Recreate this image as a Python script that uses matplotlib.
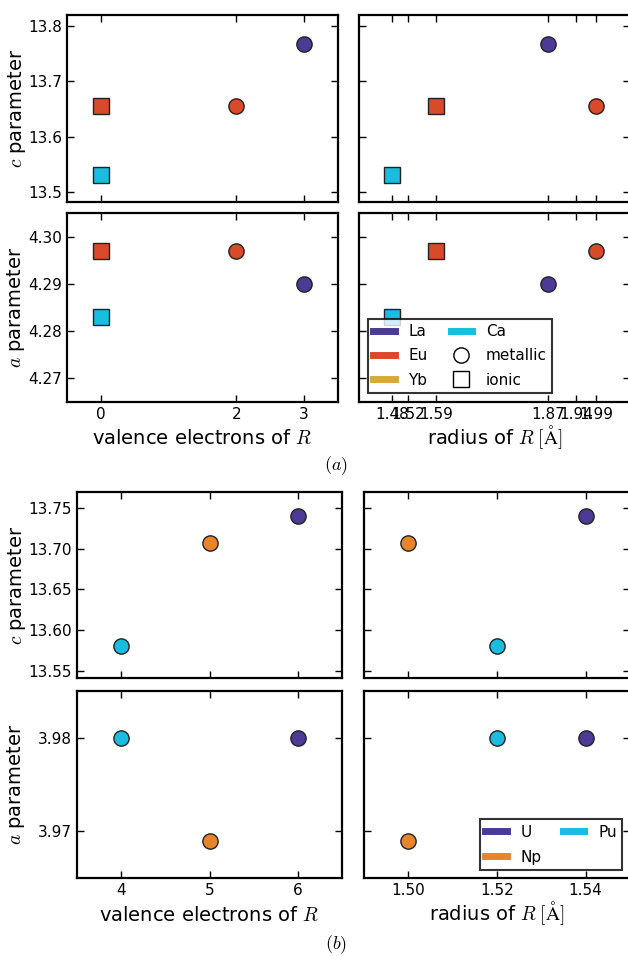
import numpy as np
import matplotlib
matplotlib.use("Agg")
import matplotlib.pyplot as plt
from matplotlib.lines import Line2D

plt.rcParams['mathtext.fontset'] = 'cm'
plt.rcParams['font.family'] = ['DejaVu Sans']
plt.rcParams['xtick.direction'] = 'in'
plt.rcParams['ytick.direction'] = 'in'
plt.rcParams['xtick.top'] = True
plt.rcParams['ytick.right'] = True
plt.rcParams['xtick.major.size'] = 5
plt.rcParams['ytick.major.size'] = 5
plt.rcParams['axes.linewidth'] = 1.6

# (a) rare earths: La, Eu, Yb, Ca
el_a = ['La', 'Eu', 'Yb', 'Ca']
col_a = ['#4b3b96', '#d94a2a', '#d6a93a', '#18bde0']
# metallic state
val_met = [3, 2, np.nan, np.nan]
rad_met = [1.87, 1.99, 1.94, np.nan]
c_met = [13.767, 13.655, np.nan, np.nan]
a_met = [4.290, 4.297, np.nan, np.nan]
# ionic state
val_ion = [np.nan, 0, np.nan, 0]
rad_ion = [np.nan, 1.59, 1.52, 1.48]
c_ion = [np.nan, 13.655, np.nan, 13.53]
a_ion = [np.nan, 4.297, np.nan, 4.283]
val_ticks_a = [0, 2, 3]
rad_ticks_a = [1.48, 1.52, 1.59, 1.87, 1.94, 1.99]

# (b) actinides: U, Np, Pu
el_b = ['U', 'Np', 'Pu']
col_b = ['#4b3b96', '#e8842c', '#18bde0']
val_b = [6, 5, 4]
rad_b = [1.54, 1.50, 1.52]
c_b = [13.740, 13.707, 13.580]
a_b = [3.980, 3.969, 3.980]

W, H = 628, 956
fig = plt.figure(figsize=(W / 100, H / 100), dpi=100)


def add_ax(x0, y0, x1, y1):
    return fig.add_axes([x0 / W, 1 - y1 / H, (x1 - x0) / W, (y1 - y0) / H])


ms = 11
tick_fs = 11
lab_fs = 14
rad_label = r'radius of $R\;[\mathrm{\AA}]$'

# ---- panel (a) ----
ax_c_val = add_ax(67, 15, 338, 202)
ax_a_val = add_ax(67, 213, 338, 402)
ax_c_rad = add_ax(359, 15, 630, 202)
ax_a_rad = add_ax(359, 213, 630, 402)

for ax, xm, xi, ym, yi in [(ax_c_val, val_met, val_ion, c_met, c_ion),
                           (ax_a_val, val_met, val_ion, a_met, a_ion),
                           (ax_c_rad, rad_met, rad_ion, c_met, c_ion),
                           (ax_a_rad, rad_met, rad_ion, a_met, a_ion)]:
    for i in range(len(el_a)):
        ax.plot(xm[i], ym[i], 'o', color=col_a[i], ms=ms, mec='#222222', mew=1)
        ax.plot(xi[i], yi[i], 's', color=col_a[i], ms=ms, mec='#222222', mew=1)

for ax in (ax_c_val, ax_a_val):
    ax.set_xlim(-0.5, 3.5)
    ax.set_xticks(val_ticks_a)
for ax in (ax_c_rad, ax_a_rad):
    ax.set_xlim(1.3975, 2.075)
    ax.set_xticks(rad_ticks_a)
for ax in (ax_c_val, ax_c_rad):
    ax.set_ylim(13.482, 13.82)
    ax.set_yticks([13.5, 13.6, 13.7, 13.8])
    ax.set_xticklabels([])
for ax in (ax_a_val, ax_a_rad):
    ax.set_ylim(4.265, 4.305)
    ax.set_yticks([4.27, 4.28, 4.29, 4.30])
for ax in (ax_c_rad, ax_a_rad):
    ax.set_yticklabels([])

ax_c_val.set_yticklabels(['13.5', '13.6', '13.7', '13.8'])
ax_a_val.set_yticklabels(['4.27', '4.28', '4.29', '4.30'])
ax_a_rad.set_xticklabels([f'{v:.2f}' for v in rad_ticks_a])

ax_c_val.set_ylabel(r'$c$ parameter', fontsize=lab_fs)
ax_a_val.set_ylabel(r'$a$ parameter', fontsize=lab_fs)
ax_c_val.yaxis.set_label_coords(-0.144, 0.5)
ax_a_val.yaxis.set_label_coords(-0.148, 0.5)
ax_a_val.set_xlabel(r'valence electrons of $R$', fontsize=lab_fs)
ax_a_rad.set_xlabel(rad_label, fontsize=lab_fs)
ax_a_val.xaxis.set_label_coords(0.5, -0.145)
ax_a_rad.xaxis.set_label_coords(0.5, -0.113)

handles_a = [Line2D([], [], color=col_a[0], lw=5),
             Line2D([], [], color=col_a[1], lw=5),
             Line2D([], [], color=col_a[2], lw=5),
             Line2D([], [], color=col_a[3], lw=5),
             Line2D([], [], ls='none', marker='o', mfc='none', mec='k', ms=ms),
             Line2D([], [], ls='none', marker='s', mfc='none', mec='k', ms=ms)]
labels_a = ['La', 'Eu', 'Yb', 'Ca', 'metallic', 'ionic']
leg = ax_a_rad.legend(handles_a, labels_a, ncol=2, loc='lower left',
                      bbox_to_anchor=(0.033, 0.048), fontsize=11, frameon=True,
                      fancybox=False, handlelength=1.4, columnspacing=1.5,
                      handletextpad=0.9, labelspacing=0.6, borderpad=0.35,
                      borderaxespad=0)
leg.get_frame().set_edgecolor('k')
leg.get_frame().set_linewidth(1.5)

fig.text(336 / W, 1 - 466 / H, r'$(a)$', fontsize=13, ha='center', va='center')

# ---- panel (b) ----
bx_c_val = add_ax(77, 492, 342, 678)
bx_a_val = add_ax(77, 691, 342, 878)
bx_c_rad = add_ax(364, 492, 630, 678)
bx_a_rad = add_ax(364, 691, 630, 878)

for ax, xs, ys in [(bx_c_val, val_b, c_b), (bx_a_val, val_b, a_b),
                   (bx_c_rad, rad_b, c_b), (bx_a_rad, rad_b, a_b)]:
    for i in range(len(el_b)):
        ax.plot(xs[i], ys[i], 'o', color=col_b[i], ms=ms, mec='#222222', mew=1)

for ax in (bx_c_val, bx_a_val):
    ax.set_xlim(3.5, 6.5)
    ax.set_xticks([4, 5, 6])
for ax in (bx_c_rad, bx_a_rad):
    ax.set_xlim(1.49, 1.55)
    ax.set_xticks([1.50, 1.52, 1.54])
for ax in (bx_c_val, bx_c_rad):
    ax.set_ylim(13.541, 13.77)
    ax.set_yticks([13.55, 13.60, 13.65, 13.70, 13.75])
    ax.set_xticklabels([])
for ax in (bx_a_val, bx_a_rad):
    ax.set_ylim(3.965, 3.985)
    ax.set_yticks([3.97, 3.98])
for ax in (bx_c_rad, bx_a_rad):
    ax.set_yticklabels([])

bx_c_val.set_yticklabels(['13.55', '13.60', '13.65', '13.70', '13.75'])
bx_a_val.set_yticklabels(['3.97', '3.98'])
bx_a_val.set_xticklabels(['4', '5', '6'])
bx_a_rad.set_xticklabels(['1.50', '1.52', '1.54'])

bx_c_val.set_ylabel(r'$c$ parameter', fontsize=lab_fs)
bx_a_val.set_ylabel(r'$a$ parameter', fontsize=lab_fs)
bx_c_val.yaxis.set_label_coords(-0.185, 0.5)
bx_a_val.yaxis.set_label_coords(-0.19, 0.5)
bx_a_val.set_xlabel(r'valence electrons of $R$', fontsize=lab_fs)
bx_a_rad.set_xlabel(rad_label, fontsize=lab_fs)
bx_a_val.xaxis.set_label_coords(0.5, -0.15)
bx_a_rad.xaxis.set_label_coords(0.5, -0.115)

handles_b = [Line2D([], [], color=c, lw=5) for c in col_b]
leg = bx_a_rad.legend(handles_b, el_b, ncol=2, loc='lower right',
                      bbox_to_anchor=(0.97, 0.043), fontsize=11, frameon=True,
                      fancybox=False, handlelength=1.4, columnspacing=1.4,
                      handletextpad=0.9, labelspacing=0.65, borderpad=0.35,
                      borderaxespad=0)
leg.get_frame().set_edgecolor('k')
leg.get_frame().set_linewidth(1.5)

fig.text(336 / W, 1 - 945 / H, r'$(b)$', fontsize=13, ha='center', va='center')

for ax in fig.axes:
    ax.tick_params(labelsize=tick_fs, width=1.0)

fig.savefig('out.png', dpi=100)
